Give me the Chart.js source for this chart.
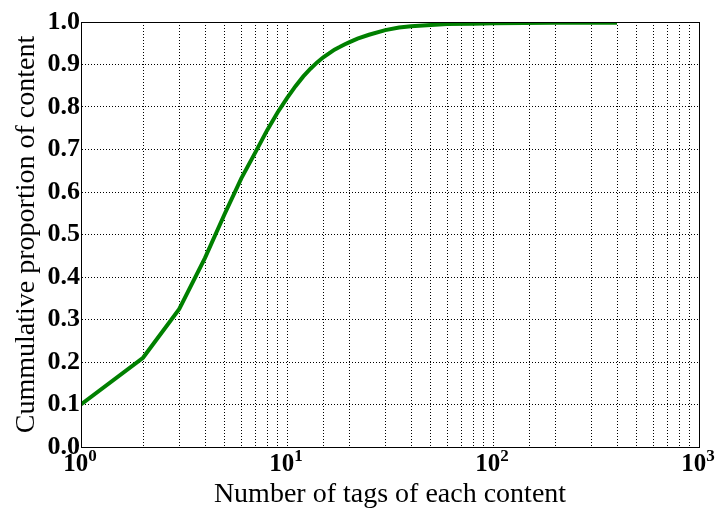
<!DOCTYPE html>
<html>
<head>
<meta charset="utf-8">
<script src="https://cdn.jsdelivr.net/npm/chart.js@4"></script>
<style>
  html, body { margin: 0; padding: 0; background: #fff; }
</style>
</head>
<body>
<canvas id="cdf-chart" width="718" height="513"></canvas>
<script>
// number of tags per content (x) and cumulative proportion (y)
const tagCounts = [1, 2, 3, 4, 5, 6, 7, 8, 9, 10, 11, 12, 13, 14, 15, 16, 17, 18, 19, 20, 22, 25, 30, 35, 40, 50, 60, 80, 100, 200, 400];
const cumProportion = [0.10, 0.21, 0.325, 0.445, 0.55, 0.632, 0.692, 0.745, 0.787, 0.821, 0.849, 0.872, 0.890, 0.905, 0.917, 0.926, 0.935, 0.941, 0.947, 0.952, 0.961, 0.970, 0.981, 0.987, 0.990, 0.993, 0.995, 0.996, 0.997, 0.998, 0.998];
const xMajorExponents = { 1: '0', 10: '1', 100: '2', 1000: '3' };
const yTicks = [0, 0.1, 0.2, 0.3, 0.4, 0.5, 0.6, 0.7, 0.8, 0.9, 1.0];

const serif = "'Liberation Serif', 'Times New Roman', serif";

// full box around the plot, like the matplotlib frame
const frameBox = {
  id: 'frameBox',
  afterDraw(chart) {
    const { ctx, chartArea: a } = chart;
    ctx.save();
    ctx.strokeStyle = '#000';
    ctx.lineWidth = 1;
    ctx.strokeRect(a.left + 0.5, a.top + 0.5, a.right - a.left, a.bottom - a.top);
    ctx.restore();
  }
};

// draw the decade labels as 10 with a raised exponent
const powerLabels = {
  id: 'powerLabels',
  afterDraw(chart) {
    const { ctx, scales: { x } } = chart;
    ctx.save();
    ctx.fillStyle = '#000';
    ctx.textBaseline = 'alphabetic';
    x.ticks.forEach((tick) => {
      const exp = xMajorExponents[tick.value];
      if (exp === undefined) return;
      const px = x.getPixelForValue(tick.value);
      ctx.font = `bold 25px ${serif}`;
      const baseW = ctx.measureText('10').width;
      ctx.font = `bold 17px ${serif}`;
      const expW = ctx.measureText(exp).width;
      const left = px - (baseW + expW) / 2 - 1;
      ctx.font = `bold 25px ${serif}`;
      ctx.fillText('10', left, x.top + 24);
      ctx.font = `bold 17px ${serif}`;
      ctx.fillText(exp, left + baseW, x.top + 14);
    });
    ctx.restore();
  }
};

const ctx = document.querySelector('#cdf-chart');
new Chart(ctx, {
  type: 'line',
  data: {
    datasets: [{
      label: 'CDF',
      data: tagCounts.map((x, i) => ({ x, y: cumProportion[i] })),
      borderColor: '#008000',
      borderWidth: 4,
      pointRadius: 0,
      fill: false,
      tension: 0
    }]
  },
  options: {
    responsive: false,
    animation: false,
    layout: { padding: { left: 0, right: 19, top: 22, bottom: 0 } },
    plugins: { legend: { display: false }, tooltip: { enabled: false } },
    scales: {
      x: {
        type: 'logarithmic',
        min: 1,
        max: 1000,
        afterFit: (scale) => { scale.height = 66; },
        grid: { color: '#000', lineWidth: 1, drawTicks: false },
        border: { color: '#000', width: 1, dash: [1, 2] },
        ticks: {
          display: false,
          autoSkip: false,
          maxRotation: 0,
          callback: (v) => (xMajorExponents[v] !== undefined ? '10^' + xMajorExponents[v] : '')
        },
        title: {
          display: true,
          text: 'Number of tags of each content',
          color: '#000',
          font: { family: serif, size: 28 },
          padding: { top: 0, bottom: 2 }
        }
      },
      y: {
        min: 0,
        max: 1,
        afterFit: (scale) => { scale.width = 81; },
        afterBuildTicks: (scale) => { scale.ticks = yTicks.map((value) => ({ value })); },
        grid: { color: '#000', lineWidth: 1, drawTicks: false },
        border: { color: '#000', width: 1, dash: [1, 2] },
        ticks: {
          padding: 1,
          color: '#000',
          font: { family: serif, size: 26, weight: 'bold' },
          callback: (v) => v.toFixed(1)
        },
        title: {
          display: true,
          text: 'Cummulative proportion of content',
          color: '#000',
          font: { family: serif, size: 28 },
          padding: { top: 10, bottom: 0 }
        }
      }
    }
  },
  plugins: [frameBox, powerLabels]
});
</script>
</body>
</html>
